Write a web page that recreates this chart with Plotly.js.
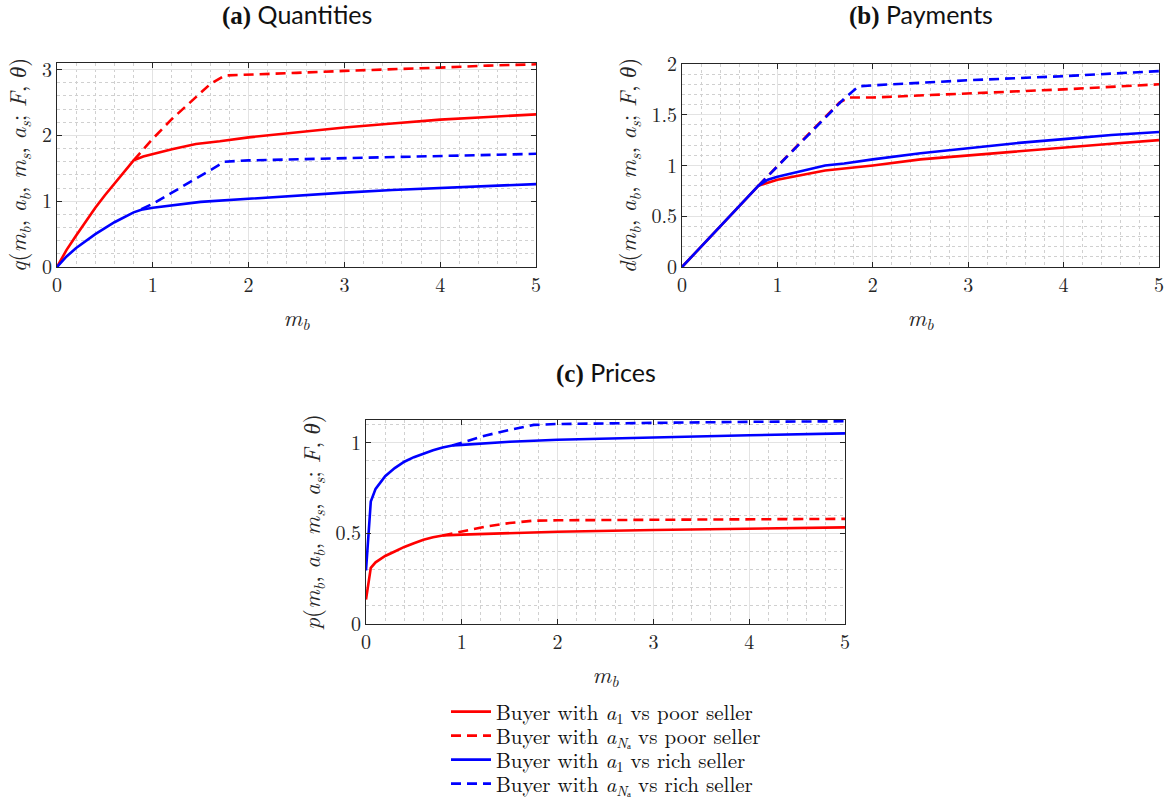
<!DOCTYPE html>
<html><head><meta charset="utf-8">
<script src="https://cdn.plot.ly/plotly-3.0.1.min.js"></script>
<style>html,body{margin:0;padding:0;background:#fff}</style>
</head><body>
<div id="chart" style="width:1167px;height:804px"></div>
<script>
// ---- Data ----
const legendNames = [
  "Buyer with <i>a</i><sub>1</sub> vs poor seller",
  "Buyer with <i>a</i><sub><i>N</i>ₐ</sub> vs poor seller",
  "Buyer with <i>a</i><sub>1</sub> vs rich seller",
  "Buyer with <i>a</i><sub><i>N</i>ₐ</sub> vs rich seller"
];
const panelTitles = ["Quantities", "Payments", "Prices"];
const panelLetters = ["(a)", "(b)", "(c)"];

// (a) Quantities
const qPoorA1_x = [0, 0.05, 0.1, 0.2, 0.3, 0.4, 0.5, 0.6, 0.7, 0.8, 0.9, 1.0, 1.2, 1.45, 1.7, 2, 2.5, 3, 3.5, 4, 4.5, 5];
const qPoorA1_y = [0, 0.14, 0.26, 0.48, 0.69, 0.9, 1.09, 1.27, 1.45, 1.62, 1.68, 1.72, 1.79, 1.87, 1.91, 1.97, 2.05, 2.12, 2.18, 2.24, 2.28, 2.32];
const qPoorAN_x = [0.8, 1.0, 1.2, 1.4, 1.6, 1.75, 2, 2.5, 3, 3.5, 4, 4.5, 5];
const qPoorAN_y = [1.62, 1.95, 2.25, 2.52, 2.78, 2.91, 2.92, 2.95, 2.98, 3.0, 3.03, 3.06, 3.08];
const qRichA1_x = [0, 0.1, 0.2, 0.3, 0.4, 0.6, 0.8, 0.88, 1.0, 1.5, 2, 2.5, 3, 3.5, 4, 4.5, 5];
const qRichA1_y = [0, 0.16, 0.29, 0.4, 0.5, 0.68, 0.83, 0.87, 0.9, 0.99, 1.04, 1.09, 1.13, 1.17, 1.2, 1.23, 1.26];
const qRichAN_x = [0.88, 1.0, 1.2, 1.4, 1.6, 1.75, 2, 3, 4, 5];
const qRichAN_y = [0.88, 0.96, 1.13, 1.3, 1.47, 1.6, 1.62, 1.65, 1.68, 1.72];

// (b) Payments
const dPoorA1_x = [0, 0.4, 0.8, 0.9, 1.0, 1.5, 2, 2.5, 3, 3.5, 4, 4.5, 5];
const dPoorA1_y = [0, 0.4, 0.8, 0.83, 0.86, 0.95, 1.0, 1.06, 1.1, 1.14, 1.18, 1.215, 1.25];
const dPoorAN_x = [0.8, 1.0, 1.2, 1.4, 1.65, 1.75, 2, 3, 4, 5];
const dPoorAN_y = [0.8, 0.99, 1.18, 1.38, 1.62, 1.67, 1.67, 1.71, 1.75, 1.8];
const dRichA1_x = [0, 0.4, 0.8, 0.9, 1.0, 1.5, 1.7, 2, 2.5, 3, 3.5, 4, 4.5, 5];
const dRichA1_y = [0, 0.4, 0.8, 0.86, 0.89, 1.0, 1.02, 1.06, 1.12, 1.17, 1.22, 1.26, 1.3, 1.33];
const dRichAN_x = [0.8, 1.0, 1.2, 1.4, 1.7, 1.85, 2, 3, 4, 5];
const dRichAN_y = [0.8, 0.99, 1.18, 1.38, 1.66, 1.78, 1.79, 1.84, 1.88, 1.93];

// (c) Prices
const pPoorA1_x = [0, 0.05, 0.1, 0.2, 0.3, 0.4, 0.5, 0.6, 0.7, 0.8, 1.0, 1.5, 2, 3, 4, 5];
const pPoorA1_y = [0.135, 0.31, 0.34, 0.375, 0.40, 0.425, 0.445, 0.465, 0.478, 0.488, 0.493, 0.502, 0.509, 0.518, 0.525, 0.533];
const pPoorAN_x = [0.8, 1.0, 1.25, 1.5, 1.75, 2, 3, 4, 5];
const pPoorAN_y = [0.488, 0.51, 0.537, 0.557, 0.57, 0.572, 0.575, 0.578, 0.58];
const pRichA1_x = [0, 0.05, 0.1, 0.2, 0.3, 0.4, 0.5, 0.6, 0.7, 0.8, 0.9, 1.0, 1.5, 2, 3, 4, 5];
const pRichA1_y = [0.295, 0.675, 0.745, 0.815, 0.86, 0.895, 0.92, 0.94, 0.958, 0.973, 0.984, 0.988, 1.005, 1.016, 1.03, 1.041, 1.051];
const pRichAN_x = [0.9, 1.0, 1.25, 1.5, 1.75, 2, 3, 4, 5];
const pRichAN_y = [0.984, 1.0, 1.04, 1.07, 1.098, 1.103, 1.11, 1.115, 1.118];

// ---- Styles ----
const RED = "#ff0000", BLUE = "#0000ff";
const LW = 2.6, DASH = "10px,6px";
const SERIF = "'Latin Modern Roman', 'CMU Serif', 'Liberation Serif', serif";
const styles = [
  {color: RED, dash: "solid"},
  {color: RED, dash: DASH},
  {color: BLUE, dash: "solid"},
  {color: BLUE, dash: DASH}
];
const legendIds = ["legend", "legend2", "legend3", "legend4"];
const legendRowY = [712, 736, 760, 784];

const panels = [
  {xs:[qPoorA1_x,qPoorAN_x,qRichA1_x,qRichAN_x], ys:[qPoorA1_y,qPoorAN_y,qRichA1_y,qRichAN_y], xa:"x", ya:"y"},
  {xs:[dPoorA1_x,dPoorAN_x,dRichA1_x,dRichAN_x], ys:[dPoorA1_y,dPoorAN_y,dRichA1_y,dRichAN_y], xa:"x2", ya:"y2"},
  {xs:[pPoorA1_x,pPoorAN_x,pRichA1_x,pRichAN_x], ys:[pPoorA1_y,pPoorAN_y,pRichA1_y,pRichAN_y], xa:"x3", ya:"y3"}
];

const traces = [];
panels.forEach((p, pi) => {
  [1,3,0,2].forEach(k => {
    traces.push({
      x: p.xs[k], y: p.ys[k], xaxis: p.xa, yaxis: p.ya,
      type: "scatter", mode: "lines",
      name: legendNames[k], legend: legendIds[k],
      showlegend: pi === 0,
      line: {color: styles[k].color, width: LW, dash: styles[k].dash}
    });
  });
});

function yTitle(f) {
  return "<i>" + f + "</i>(<i>m</i><sub><i>b</i></sub>, <i>a</i><sub><i>b</i></sub>, <i>m</i><sub><i>s</i></sub>, <i>a</i><sub><i>s</i></sub>; <i>F</i>, <i>θ</i>)";
}

function xaxis(dom, anchor) {
  return {
    domain: dom, anchor: anchor, range: [0, 5], dtick: 1, tick0: 0,
    showline: true, mirror: "ticks", linecolor: "#262626", linewidth: 1,
    ticks: "inside", ticklen: 5, tickcolor: "#262626",
    showgrid: true, gridcolor: "#e3e3e3", gridwidth: 1,
    minor: {dtick: 0.2, showgrid: true, gridcolor: "#d0d0d0", griddash: "dot", gridwidth: 1},
    zeroline: false, fixedrange: true,
    tickfont: {family: SERIF, size: 20, color: "#262626"},
    title: {text: "<i>m</i><sub><i>b</i></sub>", font: {family: SERIF, size: 23, color: "#262626"}, standoff: 12}
  };
}
function yaxis(dom, anchor, range, dtick, minorDtick, f) {
  return {
    domain: dom, anchor: anchor, range: range, dtick: dtick, tick0: 0,
    showline: true, mirror: "ticks", linecolor: "#262626", linewidth: 1,
    ticks: "inside", ticklen: 5, tickcolor: "#262626",
    showgrid: true, gridcolor: "#e3e3e3", gridwidth: 1,
    minor: {dtick: minorDtick, showgrid: true, gridcolor: "#d0d0d0", griddash: "dot", gridwidth: 1},
    zeroline: false, fixedrange: true,
    tickfont: {family: SERIF, size: 20, color: "#262626"},
    title: {text: yTitle(f), font: {family: SERIF, size: 23, color: "#262626"}, standoff: 8}
  };
}

const W = 1167, H = 804;
const xd = (a, b) => [a / W, b / W];
const yd = (top, bottom) => [1 - bottom / H, 1 - top / H];

const titleFont = {family: "Lato, 'Noto Sans', sans-serif", size: 25, color: "#111"};
function panelTitle(i, xc, ytop) {
  return {
    text: "<span style='font-family:Liberation Serif'><b>" + panelLetters[i] + "</b></span> " + panelTitles[i],
    x: xc / W, y: 1 - ytop / H, xref: "paper", yref: "paper",
    xanchor: "center", yanchor: "middle", showarrow: false, font: titleFont
  };
}
function legendBox(i) {
  return {
    x: 446 / W, y: 1 - legendRowY[i] / H, xanchor: "left", yanchor: "middle",
    font: {family: SERIF, size: 21, color: "#111"},
    itemwidth: 40, tracegroupgap: 0,
    bgcolor: "rgba(255,255,255,0)", borderwidth: 0
  };
}

const layout = {
  width: W, height: H,
  margin: {l: 0, r: 0, t: 0, b: 0, autoexpand: false},
  paper_bgcolor: "#ffffff", plot_bgcolor: "#ffffff",
  showlegend: true,
  xaxis: xaxis(xd(57, 536), "y"),
  yaxis: yaxis(yd(63, 267), "x", [0, 3.1], 1, 0.2, "q"),
  xaxis2: xaxis(xd(682, 1159), "y2"),
  yaxis2: yaxis(yd(64, 267), "x2", [0, 2], 0.5, 0.1, "d"),
  xaxis3: xaxis(xd(366, 845), "y3"),
  yaxis3: yaxis(yd(420, 624), "x3", [0, 1.125], 0.5, 0.1, "p"),
  annotations: [
    panelTitle(0, 296.5, 15),
    panelTitle(1, 920.5, 15),
    panelTitle(2, 605.5, 372)
  ],
  legend: legendBox(0),
  legend2: legendBox(1),
  legend3: legendBox(2),
  legend4: legendBox(3)
};

Plotly.newPlot("chart", traces, layout, {displayModeBar: false, staticPlot: true});
</script>
</body></html>
